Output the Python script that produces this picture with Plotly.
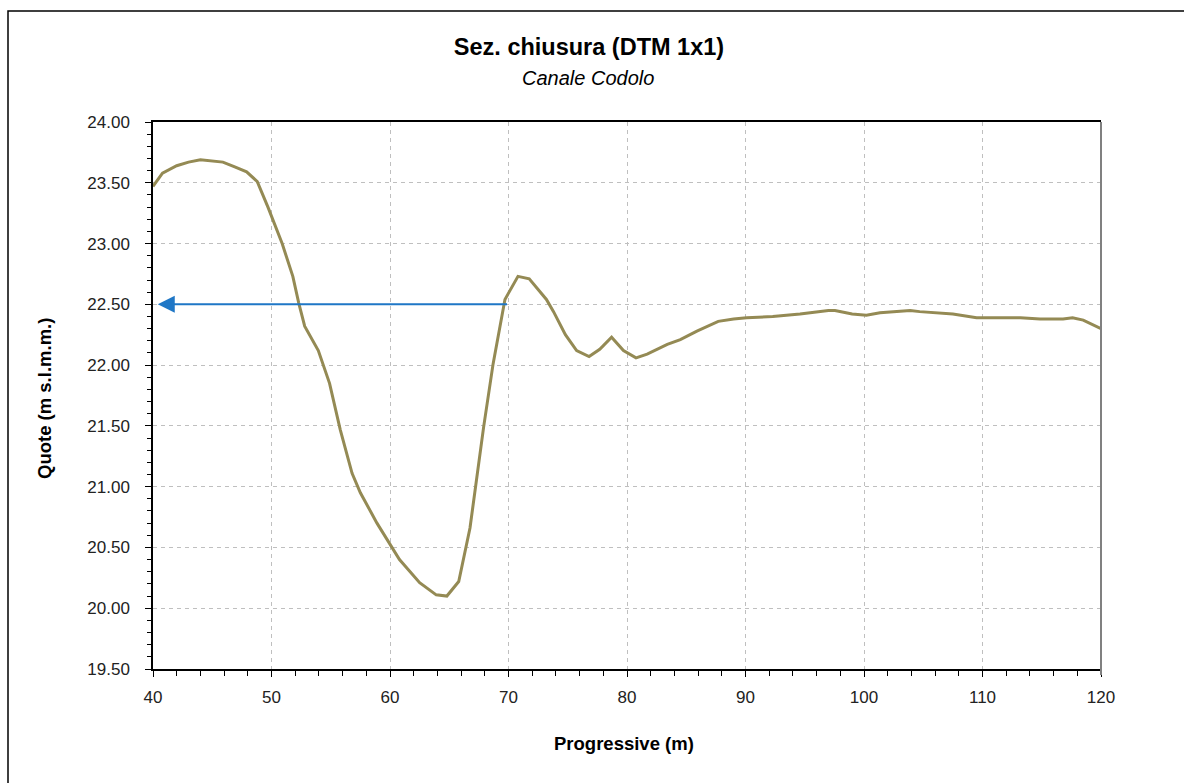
import plotly.graph_objects as go

# Cross-section profile: progressive distance (m) and ground elevation (m s.l.m.m.)
progressive = [40.0, 40.8, 42.0, 43.0, 44.0, 45.9, 46.9, 47.9, 48.8, 49.7,
               50.9, 51.8, 52.3, 52.8, 53.95, 54.9, 55.8, 56.8, 57.5, 58.9,
               60.8, 62.5, 63.9, 64.8, 65.8, 66.75, 67.9, 68.7, 69.7, 70.8,
               71.75, 73.2, 73.8, 74.8, 75.75, 76.8, 77.7, 78.7, 79.7, 80.76,
               81.7, 83.4, 84.5, 85.9, 87.7, 89.0, 90.1, 92.3, 94.6, 97.0,
               97.55, 99.0, 100.2, 101.35, 103.9, 104.7, 107.5, 109.5, 111.2, 113.2,
               114.85, 116.8, 117.6, 118.5, 120.0]
quote = [23.47, 23.58, 23.64, 23.67, 23.69, 23.67, 23.63, 23.59, 23.51, 23.30,
         23.00, 22.73, 22.51, 22.32, 22.12, 21.85, 21.47, 21.11, 20.95, 20.70,
         20.40, 20.21, 20.11, 20.10, 20.22, 20.66, 21.49, 22.01, 22.54, 22.73,
         22.71, 22.54, 22.44, 22.25, 22.12, 22.07, 22.13, 22.23, 22.12, 22.06,
         22.09, 22.17, 22.21, 22.28, 22.36, 22.38, 22.39, 22.40, 22.42, 22.45,
         22.45, 22.42, 22.41, 22.43, 22.45, 22.44, 22.42, 22.39, 22.39, 22.39,
         22.38, 22.38, 22.39, 22.37, 22.30]

# Closure level arrow
arrow_level = 22.50
arrow_from = 70.0
arrow_to = 40.4

x_ticks = [40, 50, 60, 70, 80, 90, 100, 110, 120]
y_ticks = [19.5, 20.0, 20.5, 21.0, 21.5, 22.0, 22.5, 23.0, 23.5, 24.0]
y_ticklabels = [f"{v:.2f}" for v in y_ticks]

FONT = "Liberation Sans, Arial, sans-serif"
W, H = 1184, 783
L, R, T, B = 153, 83, 122, 114
PW, PH = W - L - R, H - T - B

fig = go.Figure()
fig.add_trace(go.Scatter(
    x=progressive, y=quote, mode="lines",
    line=dict(color="#948A54", width=3),
    showlegend=False, hoverinfo="x+y",
))

fig.add_annotation(
    x=arrow_to, y=arrow_level, ax=arrow_from, ay=arrow_level,
    xref="x", yref="y", axref="x", ayref="y",
    showarrow=True, arrowhead=2, arrowsize=1.7, arrowwidth=2,
    arrowcolor="#1F77C6", text="",
)

def px_x(p):
    return (p - L) / PW

def px_y(p):
    return (H - B - p) / PH

# subtitle
fig.add_annotation(
    text="<i>Canale Codolo</i>", xref="paper", yref="paper",
    x=px_x(588), y=px_y(78), showarrow=False,
    xanchor="center", yanchor="middle",
    font=dict(family=FONT, size=20, color="#000000"),
)
# axis titles
fig.add_annotation(
    text="<b>Progressive (m)</b>", xref="paper", yref="paper",
    x=px_x(624), y=px_y(743), showarrow=False,
    xanchor="center", yanchor="middle",
    font=dict(family=FONT, size=18.5, color="#000000"),
)
fig.add_annotation(
    text="<b>Quote (m s.l.m.m.)</b>", xref="paper", yref="paper",
    x=px_x(45), y=px_y(399), showarrow=False, textangle=-90,
    xanchor="center", yanchor="middle",
    font=dict(family=FONT, size=18.5, color="#000000"),
)

# outer chart frame
fig.add_shape(type="rect", xref="paper", yref="paper",
              x0=px_x(8), x1=px_x(1200), y0=px_y(800), y1=px_y(11),
              line=dict(color="#000000", width=1.5), layer="below")
# right border of the plot area
fig.add_shape(type="line", xref="paper", yref="paper",
              x0=1, x1=1, y0=px_y(675), y1=1,
              line=dict(color="#808080", width=2))

grid = dict(showgrid=True, gridcolor="#BFBFBF", griddash="4px,4px", gridwidth=1)

fig.update_xaxes(
    range=[40, 120], tickvals=x_ticks, ticktext=[str(v) for v in x_ticks],
    showline=True, linecolor="#000000", linewidth=1.5, mirror=True,
    ticks="outside", ticklen=6, tickcolor="#000000", tickwidth=1,
    minor=dict(dtick=2, ticks="outside", ticklen=5, tickcolor="#000000", showgrid=False),
    tickfont=dict(family=FONT, size=17, color="#222222"),
    ticklabelstandoff=6, zeroline=False, **grid,
)
fig.update_yaxes(
    range=[19.5, 24.0], tickvals=y_ticks, ticktext=y_ticklabels,
    showline=True, linecolor="#000000", linewidth=1.5,
    ticks="outside", ticklen=6, tickcolor="#000000", tickwidth=1,
    minor=dict(dtick=0.1, ticks="outside", ticklen=4, tickcolor="#000000", showgrid=False),
    tickfont=dict(family=FONT, size=17, color="#222222"),
    ticklabelstandoff=12, zeroline=False, **grid,
)

fig.update_layout(
    width=W, height=H,
    margin=dict(l=L, r=R, t=T, b=B, pad=0),
    paper_bgcolor="#FFFFFF", plot_bgcolor="#FFFFFF",
    title=dict(text="<b>Sez. chiusura (DTM 1x1)</b>", x=589 / W, y=1 - 47 / H,
               xref="container", yref="container", xanchor="center", yanchor="middle",
               font=dict(family=FONT, size=23.5, color="#000000")),
)

fig.write_html("out.html")
